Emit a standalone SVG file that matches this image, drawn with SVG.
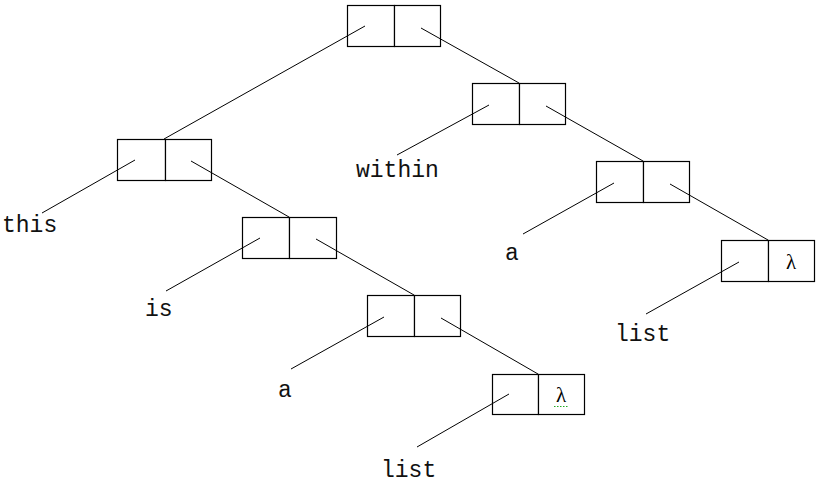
<svg xmlns="http://www.w3.org/2000/svg" width="823" height="489" viewBox="0 0 823 489">
<style>
.cell{fill:#fff;stroke:#000;stroke-width:1.2}
.c line{stroke:#000;stroke-width:1}
.t{font-family:"Liberation Mono","Courier New",monospace;font-size:23px;fill:#111}
.l{font-family:"Liberation Serif","Times New Roman",serif;font-size:21px;fill:#000;text-anchor:middle}
</style>
<rect width="823" height="489" fill="#fff"/>
<g id="n1"><rect class="cell" x="347.5" y="5.5" width="47" height="41"/><rect class="cell" x="394.5" y="5.5" width="46" height="41"/></g>
<g id="n2"><rect class="cell" x="472.5" y="83.5" width="47" height="41"/><rect class="cell" x="519.5" y="83.5" width="46" height="41"/></g>
<g id="n3"><rect class="cell" x="596.5" y="161.5" width="47" height="41"/><rect class="cell" x="643.5" y="161.5" width="46" height="41"/></g>
<g id="n4"><rect class="cell" x="721.5" y="240.5" width="47" height="41"/><rect class="cell" x="768.5" y="240.5" width="46" height="41"/><text class="l" x="791" y="269">λ</text></g>
<g id="nA"><rect class="cell" x="117.5" y="139.5" width="48" height="41"/><rect class="cell" x="165.5" y="139.5" width="46" height="41"/></g>
<g id="nB"><rect class="cell" x="242.5" y="217.5" width="47" height="41"/><rect class="cell" x="289.5" y="217.5" width="47" height="41"/></g>
<g id="nC"><rect class="cell" x="367.5" y="295.5" width="47" height="41"/><rect class="cell" x="414.5" y="295.5" width="46" height="41"/></g>
<g id="nD"><rect class="cell" x="492.5" y="374.5" width="46" height="40"/><rect class="cell" x="538.5" y="374.5" width="46" height="40"/><text class="l" x="561" y="402">λ</text><line x1="554" y1="406.5" x2="568" y2="406.5" stroke="#2a2" stroke-width="1" stroke-dasharray="1.5,1.5"/></g>
<g id="labels">
<text class="t" x="2" y="232">this</text>
<text class="t" x="356" y="177">within</text>
<text class="t" x="145" y="316">is</text>
<text class="t" x="505" y="260">a</text>
<text class="t" x="615" y="341">list</text>
<text class="t" x="278" y="397">a</text>
<text class="t" x="381" y="477">list</text>
</g>
<g id="connectors" class="c">
<line x1="365" y1="26" x2="164" y2="139"/>
<line x1="421" y1="28" x2="519" y2="83"/>
<line x1="489" y1="105" x2="397" y2="155"/>
<line x1="546" y1="106" x2="643" y2="161"/>
<line x1="614" y1="183" x2="523" y2="234"/>
<line x1="670" y1="184" x2="768" y2="240"/>
<line x1="739" y1="262" x2="646" y2="314"/>
<line x1="135" y1="160" x2="42" y2="213"/>
<line x1="191" y1="161" x2="289" y2="217"/>
<line x1="260" y1="238" x2="166" y2="291"/>
<line x1="316" y1="239" x2="414" y2="295"/>
<line x1="384" y1="317" x2="291" y2="369"/>
<line x1="441" y1="318" x2="538" y2="374"/>
<line x1="509" y1="394" x2="417" y2="447"/>
</g>
</svg>
